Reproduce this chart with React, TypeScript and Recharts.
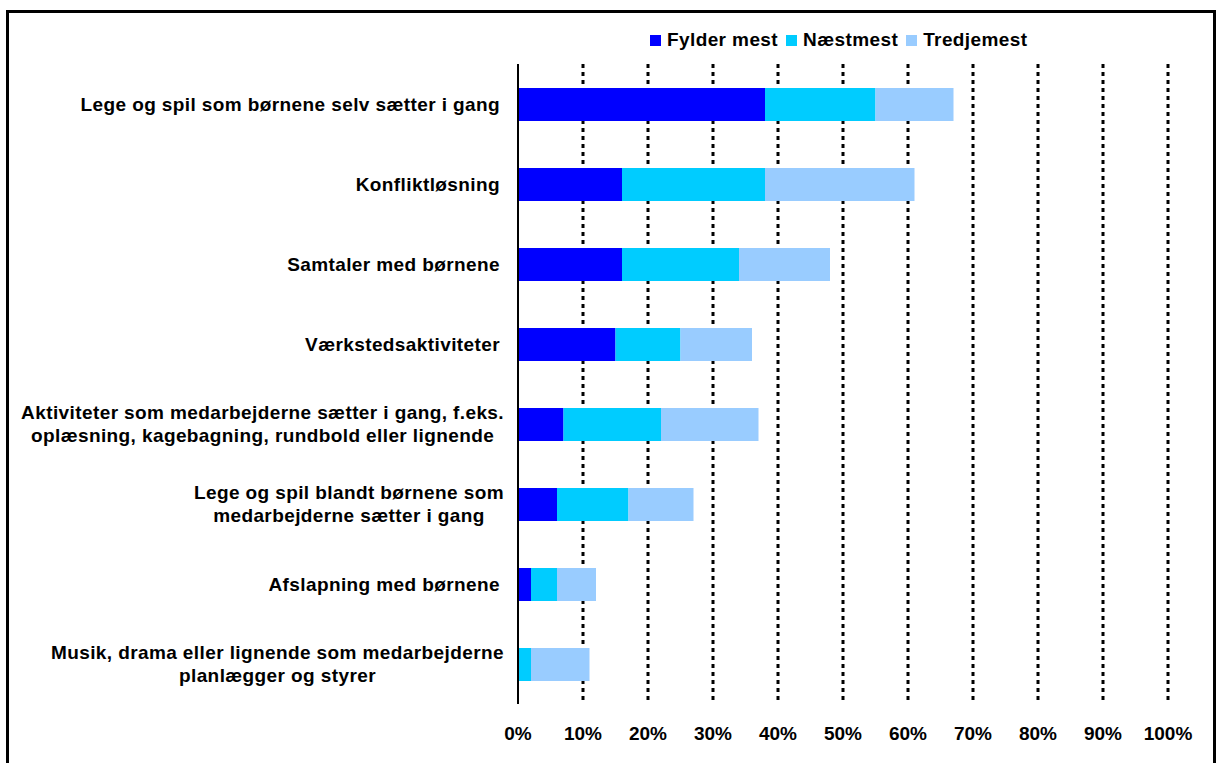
import { Bar, BarChart, CartesianGrid, Legend, XAxis, YAxis } from "recharts";

const categories = [
	"Lege og spil som børnene selv sætter i gang",
	"Konfliktløsning",
	"Samtaler med børnene",
	"Værkstedsaktiviteter",
	"Aktiviteter som medarbejderne sætter i gang, f.eks.\noplæsning, kagebagning, rundbold eller lignende",
	"Lege og spil blandt børnene som\nmedarbejderne sætter i gang",
	"Afslapning med børnene",
	"Musik, drama eller lignende som medarbejderne\nplanlægger og styrer",
];
const fylderMest = [38, 16, 16, 15, 7, 6, 2, 0];
const naestmest = [17, 22, 18, 10, 15, 11, 4, 2];
const tredjemest = [12, 23, 14, 11, 15, 10, 6, 9];
const xTicks = [0, 10, 20, 30, 40, 50, 60, 70, 80, 90, 100];
const gridValues = [10, 20, 30, 40, 50, 60, 70, 80, 90, 100];

const series = [
	{ key: "fylder", name: "Fylder mest", color: "#0000FF" },
	{ key: "naest", name: "Næstmest", color: "#00CCFF" },
	{ key: "tredje", name: "Tredjemest", color: "#99CCFF" },
];

const data = categories.map((name, i) => ({
	name,
	fylder: fylderMest[i],
	naest: naestmest[i],
	tredje: tredjemest[i],
}));

const FONT = '"Liberation Sans", Arial, sans-serif';
const FONT_SIZE = 19;
const SPACING = 0.4;

let ctx: CanvasRenderingContext2D | null = null;
function measure(text: string) {
	if (!ctx) {
		ctx = document.createElement("canvas").getContext("2d");
	}
	if (!ctx) return text.length * 10;
	ctx.font = `bold ${FONT_SIZE}px ${FONT}`;
	return ctx.measureText(text).width + text.length * SPACING;
}

function CategoryTick(props: any) {
	const { x, y, payload } = props;
	const lines = String(payload.value).split("\n");
	const textStyle = {
		fontFamily: FONT,
		fontSize: FONT_SIZE,
		fontWeight: "bold" as const,
		letterSpacing: SPACING,
	};
	if (lines.length === 1) {
		return (
			<text x={x} y={y} dy="0.36em" textAnchor="end" fill="#000" style={textStyle}>
				{lines[0]}
			</text>
		);
	}
	const maxW = Math.max(...lines.map(measure));
	const cx = x + 4 - maxW / 2;
	const lineH = 23;
	const start = -((lines.length - 1) * lineH) / 2;
	return (
		<text x={cx} y={y} textAnchor="middle" fill="#000" style={textStyle}>
			{lines.map((l, i) => (
				<tspan key={i} x={cx} y={y + start + i * lineH} dy="0.36em">
					{l}
				</tspan>
			))}
		</text>
	);
}

function LegendContent() {
	return (
		<div style={{ display: "flex", alignItems: "center" }}>
			{series.map((s) => (
				<div key={s.key} style={{ display: "flex", alignItems: "center", marginRight: 8 }}>
					<div style={{ width: 11, height: 11, background: s.color, marginRight: 6 }} />
					<span
						style={{
							fontFamily: FONT,
							fontSize: FONT_SIZE,
							fontWeight: "bold",
							letterSpacing: SPACING,
							color: "#000",
							lineHeight: "20px",
						}}
					>
						{s.name}
					</span>
				</div>
			))}
		</div>
	);
}

export default function App() {
	return (
		<>
			<div
				style={{
					position: "absolute",
					left: 6,
					top: 10,
					width: 1210,
					height: 753,
					boxSizing: "border-box",
					borderTop: "3px solid #000",
					borderLeft: "3px solid #000",
					borderRight: "3px solid #000",
				}}
			/>
			<div style={{ position: "absolute", left: 0, top: 0 }}>
				<BarChart
					width={1217}
					height={763}
					data={data}
					layout="vertical"
					margin={{ top: 64, right: 49, bottom: 29, left: 0 }}
				>
					<CartesianGrid
						vertical
						horizontal={false}
						verticalValues={gridValues}
						stroke="#000"
						strokeWidth={3}
						strokeDasharray="4 4"
					/>
					<XAxis
						type="number"
						domain={[0, 100]}
						ticks={xTicks}
						tickFormatter={(v) => `${v}%`}
						axisLine={false}
						tickLine={false}
						tickSize={0}
						tickMargin={23}
						height={30}
						interval={0}
						tick={{
							fill: "#000",
							fontSize: FONT_SIZE,
							fontWeight: "bold",
							fontFamily: FONT,
						}}
					/>
					<YAxis
						type="category"
						dataKey="name"
						width={518}
						axisLine={{ stroke: "#000", strokeWidth: 2 }}
						tickLine={false}
						tickSize={0}
						tickMargin={18}
						interval={0}
						tick={<CategoryTick />}
					/>
					<Legend
						verticalAlign="top"
						content={<LegendContent />}
						wrapperStyle={{
							position: "absolute",
							top: 30,
							left: 650,
							width: "auto",
							height: 0,
							overflow: "visible",
						}}
					/>
					{series.map((s) => (
						<Bar
							key={s.key}
							dataKey={s.key}
							name={s.name}
							stackId="a"
							fill={s.color}
							barSize={33}
							isAnimationActive={false}
						/>
					))}
				</BarChart>
			</div>
		</>
	);
}
